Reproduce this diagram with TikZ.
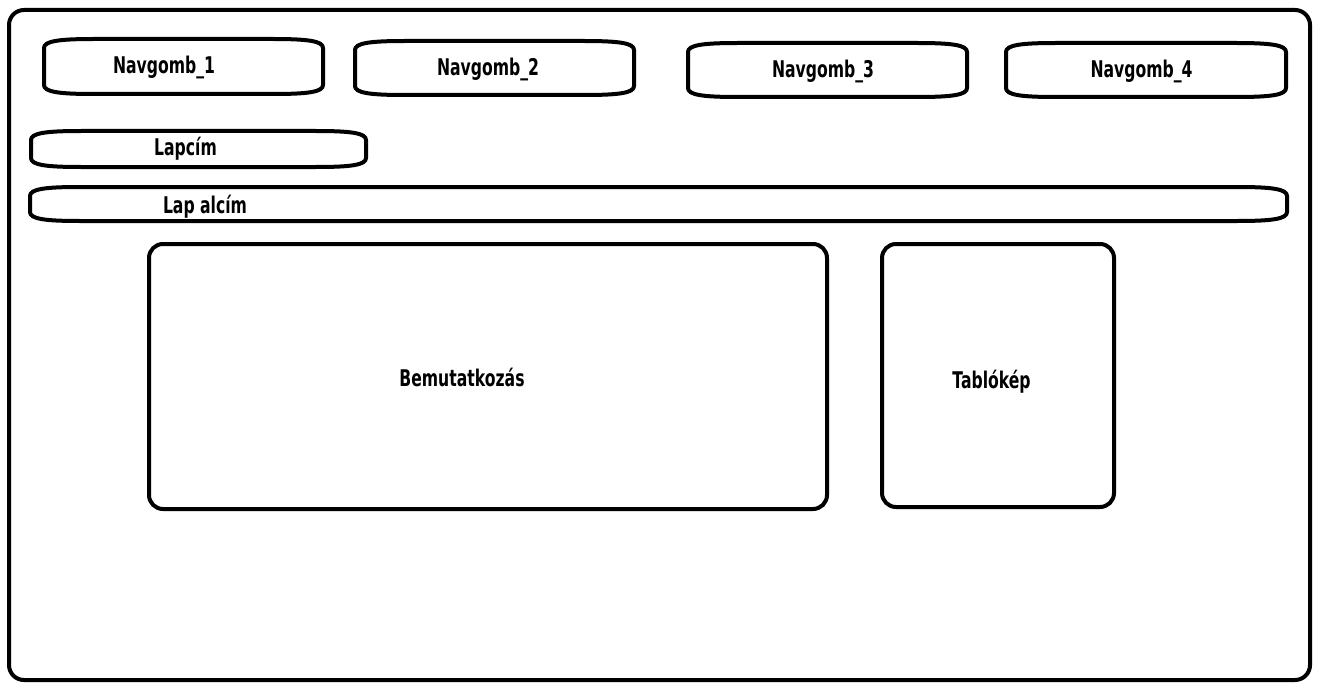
\documentclass[tikz,border=0pt]{standalone}
\usepackage{fontspec}
\setmainfont{DejaVu Sans}[FakeStretch=0.68]
\begin{document}
\begin{tikzpicture}[x=1pt,y=-1pt,
  wline/.style={draw=black,line width=4pt,line join=round},
  area/.style={inner sep=0pt,outer sep=0pt,rectangle},
  rbox/.style={area,wline,rounded corners=15pt},
  lbl/.style={anchor=base,inner sep=0pt,font=\fontsize{23pt}{26pt}\selectfont\bfseries}]
\newcommand\pillpath[1]{%
 \draw[wline] ([yshift=-9pt]#1.north west) .. controls ([yshift=-2pt]#1.north west) and ([xshift=15pt]#1.north west) .. ([xshift=50pt]#1.north west) -- ([xshift=-50pt]#1.north east) .. controls ([xshift=-15pt]#1.north east) and ([yshift=-2pt]#1.north east) .. ([yshift=-9pt]#1.north east) -- ([yshift=9pt]#1.south east) .. controls ([yshift=2pt]#1.south east) and ([xshift=-15pt]#1.south east) .. ([xshift=-50pt]#1.south east) -- ([xshift=50pt]#1.south west) .. controls ([xshift=15pt]#1.south west) and ([yshift=2pt]#1.south west) .. ([yshift=9pt]#1.south west) -- cycle;}
\useasboundingbox[fill=white] (0,0) rectangle (1319,690);
% outer frame
\node[rbox,minimum width=1301pt,minimum height=670pt] (frame) at (659.5,345) {};
% navigation buttons
\node[area,minimum width=279pt,minimum height=55pt] (nb1) at (183.5,66.5) {};
\node[area,minimum width=279pt,minimum height=54pt] (nb2) at (494.5,68) {};
\node[area,minimum width=279pt,minimum height=54pt] (nb3) at (827.5,70) {};
\node[area,minimum width=280pt,minimum height=54pt] (nb4) at (1146,70) {};
\node[area,minimum width=335pt,minimum height=36pt] (title) at (198.5,149) {};
\node[area,minimum width=1257pt,minimum height=34pt] (subtitle) at (658.5,204) {};
\pillpath{nb1}
\pillpath{nb2}
\pillpath{nb3}
\pillpath{nb4}
\pillpath{title}
\pillpath{subtitle}
% content boxes
\node[rbox,rounded corners=14pt,minimum width=678pt,minimum height=265pt] (intro) at (488,376.5) {};
\node[rbox,rounded corners=14pt,minimum width=232pt,minimum height=263pt] (photo) at (998,375.5) {};
% labels
\node[lbl] (t1) at (164,74) {Navgomb\_1};
\node[lbl] (t2) at (488,76) {Navgomb\_2};
\node[lbl] (t3) at (823,78) {Navgomb\_3};
\node[lbl] (t4) at (1141.5,78) {Navgomb\_4};
\node[lbl] (tt) at (185.5,155) {Lapcím};
\node[lbl] (ts) at (205,213) {Lap alcím};
\node[lbl] (ti) at (462,386) {Bemutatkozás};
\node[lbl] (tp) at (991.5,388) {Tablókép};
\end{tikzpicture}
\end{document}
